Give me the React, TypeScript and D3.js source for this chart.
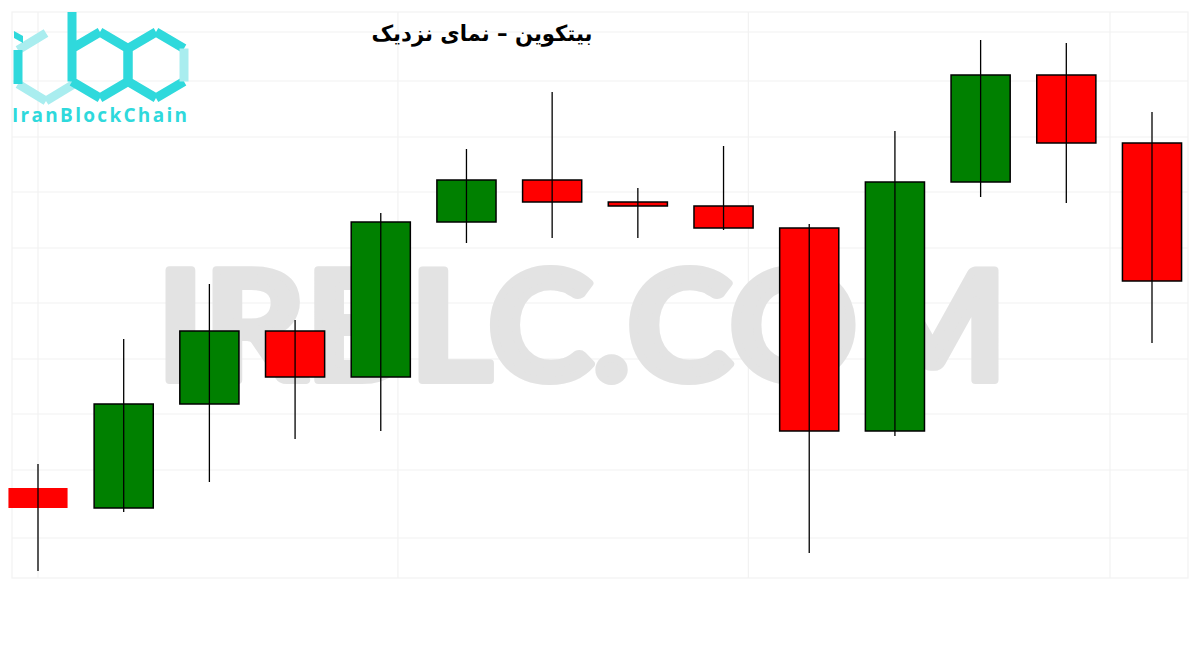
import React from "react";
import * as d3 from "d3";

const opens = [112, 92, 196, 269, 223, 378, 420, 398, 394, 372, 169, 418, 525, 457];
const closes = [92, 196, 269, 223, 378, 420, 398, 394, 372, 169, 418, 525, 457, 319];
const highs = [136, 261, 316, 280, 387, 451, 508, 412, 454, 376, 469, 560, 557, 488];
const lows = [29, 88, 118, 161, 169, 357, 362, 362, 370, 47, 164, 403, 397, 257];
const hGrid = [568, 519, 463, 408, 352, 297, 241, 186, 130, 62];
const vGrid = [0, 4.2, 8.29, 12.51];
const title = "بیتکوین – نمای نزدیک";
const watermark = "IRBLC.COM";
const brand = "IranBlockChain";

const W = 1200;
const H = 650;

export default function App() {
  const x = d3.scaleLinear().domain([0, 13]).range([38, 1152]);
  const y = d3.scaleLinear().domain([0, 600]).range([600, 0]);
  const step = x(1) - x(0);
  const bw = step * 0.69;

  const hexPts = (cx: number, cy: number, rx: number, ry: number) => {
    const pts: [number, number][] = [
      [cx, cy - ry],
      [cx + rx, cy - ry / 2],
      [cx + rx, cy + ry / 2],
      [cx, cy + ry],
      [cx - rx, cy + ry / 2],
      [cx - rx, cy - ry / 2],
    ];
    return pts;
  };
  const seg = (p: [number, number][], i: number, j: number) =>
    `M${p[i][0]},${p[i][1]}L${p[j][0]},${p[j][1]}`;

  const dark = "#2fd9dc";
  const light = "#a9edef";
  const hi = hexPts(46, 67, 28, 34);
  const hb = hexPts(100, 65, 28, 33);
  const hc = hexPts(156, 65, 28, 33);

  return (
    <svg width={W} height={H} style={{ display: "block", position: "absolute", left: 0, top: 0 }}>
      <rect x={0} y={0} width={W} height={H} fill="#fff" />
      {/* grid */}
      <g stroke="#f2f2f2" strokeWidth={1.2} fill="none">
        <rect x={12} y={12} width={1176} height={566} />
        {hGrid.map((v, i) => (
          <line key={"h" + i} x1={12} x2={1188} y1={y(v)} y2={y(v)} />
        ))}
        {vGrid.map((v, i) => (
          <line key={"v" + i} x1={x(v)} x2={x(v)} y1={12} y2={578} />
        ))}
      </g>
      {/* watermark */}
      <text
        x={157}
        y={380}
        fontFamily="Lato, 'Open Sans', sans-serif"
        fontWeight={700}
        fontSize={152}
        fill="#e3e3e3"
        stroke="#e3e3e3"
        strokeWidth={8}
        strokeLinejoin="round"
        textLength={850}
        lengthAdjust="spacingAndGlyphs"
      >
        {watermark}
      </text>
      {/* logo */}
      <g fill="none" strokeWidth={9} strokeLinejoin="miter">
        <path d={seg(hi, 5, 0) + seg(hi, 3, 4)} stroke={light} />
        <path d={seg(hi, 4, 5)} stroke={dark} />
        <path d={seg(hi, 2, 3)} stroke={light} />
        <path d="M14,31L23,36L23,43L14,38Z" fill={dark} stroke="none" />
        <path d={`M72,12L72,${hb[4][1]}` + seg(hb, 4, 3) + seg(hb, 3, 2) + seg(hb, 2, 1) + seg(hb, 1, 0) + seg(hb, 0, 5)} stroke={dark} />
        <path d={seg(hc, 0, 5) + seg(hc, 5, 4) + seg(hc, 4, 3) + seg(hc, 3, 2) + seg(hc, 0, 1)} stroke={dark} />
        <path d={seg(hc, 1, 2)} stroke={light} />
      </g>
      <text x={12} y={122} fontFamily="'Open Sans', sans-serif" fontWeight={700} fontSize={19} fill={dark} letterSpacing={2.3}>
        {brand}
      </text>
      {/* title */}
      <text
        x={482}
        y={41}
        textAnchor="middle"
        direction="rtl"
        fontFamily="'DejaVu Sans', sans-serif"
        fontWeight={700}
        fontSize={22}
        fill="#000"
        textLength={221}
        lengthAdjust="spacingAndGlyphs"
      >
        {title}
      </text>
      {/* candles */}
      {opens.map((o, i) => {
        const c = closes[i];
        const up = c >= o;
        const top = y(Math.max(o, c));
        const bot = y(Math.min(o, c));
        const cx = x(i);
        return (
          <g key={i}>
            <rect
              x={cx - bw / 2}
              y={top}
              width={bw}
              height={Math.max(bot - top, 1)}
              fill={up ? "#008000" : "#ff0000"}
              stroke={i === 0 ? "none" : "#000"}
              strokeWidth={1.5}
            />
            <line x1={cx} x2={cx} y1={y(highs[i])} y2={y(lows[i])} stroke="#000" strokeWidth={1.3} />
          </g>
        );
      })}
    </svg>
  );
}
